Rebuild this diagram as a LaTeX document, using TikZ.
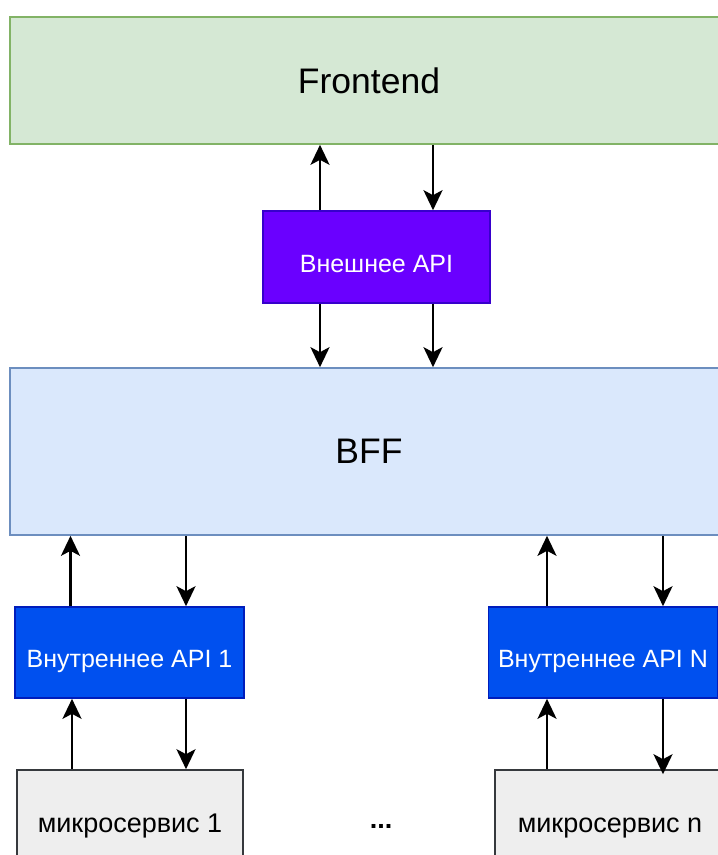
\documentclass[tikz,border=0pt]{standalone}
\usepackage{fontspec}
\setmainfont{Liberation Sans}
\usetikzlibrary{arrows.meta}

\definecolor{frontfill}{HTML}{D5E8D4}
\definecolor{frontline}{HTML}{82B366}
\definecolor{bfffill}{HTML}{DAE8FC}
\definecolor{bffline}{HTML}{6C8EBF}
\definecolor{apifill}{HTML}{6A00FF}
\definecolor{apiline}{HTML}{3700CC}
\definecolor{intfill}{HTML}{0050EF}
\definecolor{intline}{HTML}{001DBC}
\definecolor{msfill}{HTML}{EEEEEE}
\definecolor{msline}{HTML}{36393D}

\tikzset{
  box/.style={draw, line width=1.6pt, inner sep=0pt, align=center},
  bigbox/.style={box, font=\fontsize{35.5}{40}\selectfont},
  smallbox/.style={box, font=\fontsize{25}{30}\selectfont, text height=30pt, text depth=0pt},
  arr/.style={line width=2.6pt, -{Stealth[length=20pt, width=19pt, inset=5pt]}}
}

\begin{document}
\begin{tikzpicture}[x=1pt, y=-1pt]
		%%%%% START %%%%%
		\useasboundingbox (0,0) rectangle (718,855);
		\clip (0,0) rectangle (718,855);
		
		\node[bigbox, fill=frontfill, draw=frontline, minimum width=718pt, minimum height=127pt] (front) at (369,80.5) {Frontend};
		\node[smallbox, fill=apifill, draw=apiline, text=white, minimum width=227pt, minimum height=92pt] (api) at (376.5,257) {Внешнее API};
		\node[bigbox, fill=bfffill, draw=bffline, minimum width=718pt, minimum height=167pt] (bff) at (369,451.5) {BFF};
		
		\node[smallbox, fill=intfill, draw=intline, text=white, minimum width=229pt, minimum height=91pt] (int1) at (129.5,652.5) {Внутреннее API 1};
		\node[smallbox, fill=intfill, draw=intline, text=white, minimum width=229pt, minimum height=91pt] (intN) at (603,652.5) {Внутреннее API N};
		
		\node[smallbox, font=\fontsize{27}{32}\selectfont, text height=20pt, fill=msfill, draw=msline, minimum width=226pt, minimum height=104pt] (ms1) at (130,822) {микросервис 1};
		\node[smallbox, font=\fontsize{27}{32}\selectfont, text height=20pt, fill=msfill, draw=msline, minimum width=230pt, minimum height=104pt] (msN) at (610,822) {микросервис n};
		
		\node[font=\fontsize{27}{32}\selectfont\bfseries] (dots) at (381,826) {...};
		
		% Frontend <-> external API
		\coordinate (au) at ([xshift=-56.5pt]api.north);
		\coordinate (ad) at ([xshift=56.5pt]api.north);
		\draw[arr] (au) -- (au |- front.south);
		\draw[arr] (ad |- front.south) -- (ad);
		
		% external API -> BFF
		\coordinate (bl) at ([xshift=-56.5pt]api.south);
		\coordinate (br) at ([xshift=56.5pt]api.south);
		\draw[arr] (bl) -- (bl |- bff.north);
		\draw[arr] (br) -- (br |- bff.north);
		
		% BFF <-> internal APIs
		\coordinate (iu1) at ([xshift=-59pt]int1.north);
		\coordinate (id1) at ([xshift=56.5pt]int1.north);
		\draw[arr] (iu1) -- (iu1 |- bff.south);
		\draw[arr] (id1 |- bff.south) -- (id1);
		
		\coordinate (iuN) at ([xshift=-56pt]intN.north);
		\coordinate (idN) at ([xshift=60pt]intN.north);
		\draw[arr] (iuN) -- (iuN |- bff.south);
		\draw[arr] (idN |- bff.south) -- (idN);
		
		% internal APIs <-> microservices
		\coordinate (mu1) at ([xshift=-57.5pt]int1.south);
		\coordinate (md1) at ([xshift=56.5pt]int1.south);
		\draw[arr] (mu1 |- ms1.north) -- (mu1);
		\draw[arr] (md1) -- (md1 |- ms1.north);
		
		\coordinate (muN) at ([xshift=-56pt]intN.south);
		\coordinate (mdN) at ([xshift=60pt]intN.south);
		\draw[arr] (muN |- msN.north) -- (muN);
		\draw[arr] (mdN) -- ([yshift=-5pt]mdN |- msN.north);
		%%%%% END %%%%%
\end{tikzpicture}
\end{document}
